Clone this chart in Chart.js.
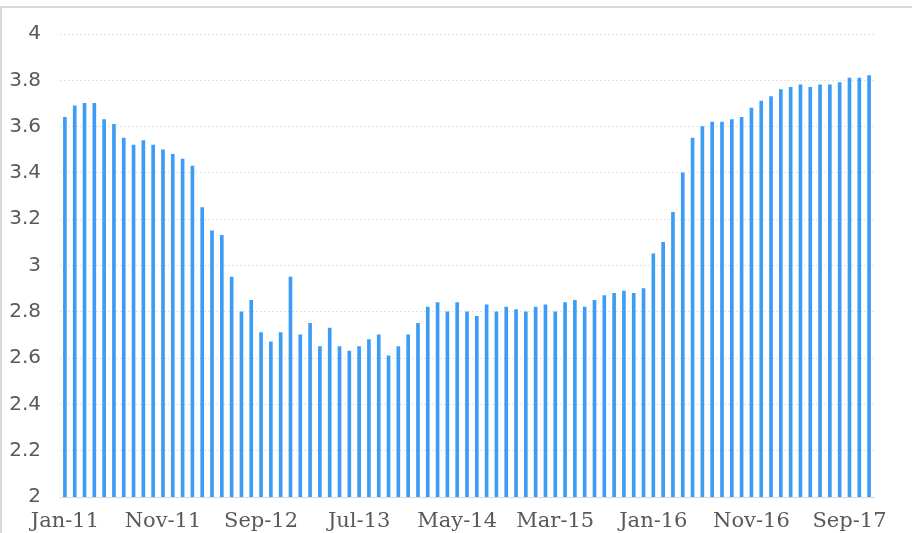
<!DOCTYPE html>
<html>
<head>
<meta charset="utf-8">
<script src="https://cdn.jsdelivr.net/npm/chart.js@4/dist/chart.umd.min.js"></script>
<style>
  html, body { margin: 0; padding: 0; background: #fff; }
  #wrap { position: relative; width: 912px; height: 533px; overflow: hidden; }
  #frame {
    position: absolute; top: 6px; left: 0; width: 912px; height: 527px;
    box-sizing: border-box; border-top: 2px solid #d9d9d9; border-left: 2px solid #d9d9d9;
  }
  #rateChart { position: absolute; top: 0; left: 0; }
</style>
</head>
<body>
<div id="wrap">
  <div id="frame"></div>
  <canvas id="rateChart" width="912" height="533"></canvas>
</div>
<script>
const monthNames = ['Jan', 'Feb', 'Mar', 'Apr', 'May', 'Jun', 'Jul', 'Aug', 'Sep', 'Oct', 'Nov', 'Dec'];
const years = ['11', '12', '13', '14', '15', '16', '17'];

// monthly categories, Jan-11 .. Nov-17
const months = [];
years.forEach(y => monthNames.forEach(m => months.push(m + '-' + y)));
months.length = 83;

const values = [
  3.64, 3.69, 3.70, 3.70, 3.63, 3.61, 3.55, 3.52, 3.54, 3.52, 3.50, 3.48,
  3.46, 3.43, 3.25, 3.15, 3.13, 2.95, 2.80, 2.85, 2.71, 2.67, 2.71, 2.95,
  2.70, 2.75, 2.65, 2.73, 2.65, 2.63, 2.65, 2.68, 2.70, 2.61, 2.65, 2.70,
  2.75, 2.82, 2.84, 2.80, 2.84, 2.80, 2.78, 2.83, 2.80, 2.82, 2.81, 2.80,
  2.82, 2.83, 2.80, 2.84, 2.85, 2.82, 2.85, 2.87, 2.88, 2.89, 2.88, 2.90,
  3.05, 3.10, 3.23, 3.40, 3.55, 3.60, 3.62, 3.62, 3.63, 3.64, 3.68, 3.71,
  3.73, 3.76, 3.77, 3.78, 3.77, 3.78, 3.78, 3.79, 3.81, 3.81, 3.82
];

const yMin = 2;
const yMax = 4;
const yStep = 0.2;
const labelEvery = 10;

new Chart(document.getElementById('rateChart'), {
  type: 'bar',
  data: {
    labels: months,
    datasets: [{
      data: values,
      backgroundColor: '#3d9cf5',
      borderWidth: 0,
      barThickness: 3,
    }],
  },
  options: {
    responsive: false,
    animation: false,
    layout: { padding: { top: 34, right: 38, left: 0, bottom: 0 } },
    plugins: { legend: { display: false }, tooltip: { enabled: false } },
    scales: {
      x: {
        grid: { display: false, drawTicks: false },
        border: { display: true, color: '#d9d9d9', width: 1 },
        ticks: {
          autoSkip: false,
          maxRotation: 0,
          padding: 12,
          color: '#595959',
          font: { family: '"DejaVu Serif", serif', size: 21 },
          callback: (v, i) => (i % labelEvery === 0 ? months[i] : ''),
        },
        afterFit: (s) => { s.height = 36; },
      },
      y: {
        min: yMin,
        max: yMax,
        grid: { color: '#e2e2e2', lineWidth: 1, drawTicks: false },
        border: { display: false, dash: [2, 2] },
        ticks: {
          stepSize: yStep,
          padding: 19,
          color: '#595959',
          font: { family: '"DejaVu Sans", sans-serif', size: 20 },
          callback: (v) => String(Math.round(v * 10) / 10),
        },
        afterFit: (s) => { s.width = 60; },
      },
    },
  },
});
</script>
</body>
</html>
